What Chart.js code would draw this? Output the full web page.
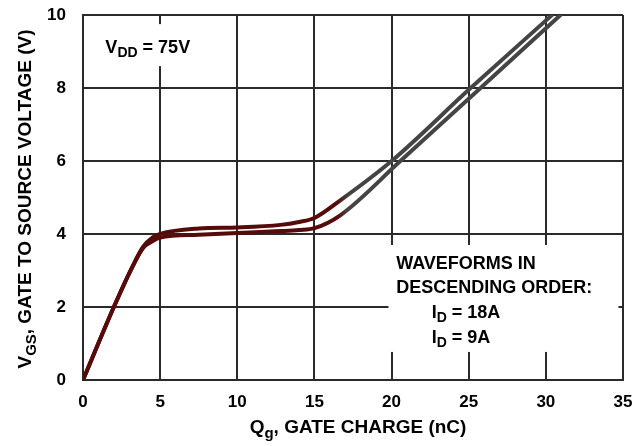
<!DOCTYPE html>
<html>
<head>
<meta charset="utf-8">
<script src="https://cdn.jsdelivr.net/npm/chart.js@4"></script>
<style>
  html, body { margin: 0; padding: 0; background: #fff; }
  #wrap { width: 634px; height: 446px; }
</style>
</head>
<body>
<div id="wrap"><canvas id="gateChart" width="634" height="446"></canvas></div>
<script>
// gate charge curves (nC, V)
const chargeHigh = [0, 2, 3.2, 3.9, 4.5, 5, 7.5, 10, 12.8, 14, 15, 16.7, 20, 25, 30.4];
const vgsHigh    = [0, 2, 3.1, 3.65, 3.9, 4.0, 4.15, 4.18, 4.25, 4.33, 4.44, 4.93, 6.0, 7.95, 10];
const chargeLow  = [0, 2, 3.2, 3.9, 4.5, 5, 7.5, 10, 12.8, 14, 15, 16.7, 20.5, 25.5, 30.95];
const vgsLow     = [0, 2, 3.1, 3.62, 3.8, 3.9, 3.98, 4.03, 4.08, 4.11, 4.16, 4.52, 5.97, 7.9, 10];
const seriesNames = ['I_D = 18A', 'I_D = 9A'];
const xTicks = [0, 5, 10, 15, 20, 25, 30, 35];
const yTicks = [0, 2, 4, 6, 8, 10];

const FONT = '"Liberation Sans", Arial, sans-serif';

function toPoints(xs, ys) {
  return xs.map((x, i) => ({ x: x, y: ys[i] }));
}

function curveColor(context) {
  const chart = context.chart;
  const area = chart.chartArea;
  if (!area) return '#4a0a0a';
  const g = chart.ctx.createLinearGradient(area.left, 0, area.right, 0);
  g.addColorStop(0, '#560a0a');
  g.addColorStop(0.47, '#560a0a');
  g.addColorStop(0.49, '#444444');
  g.addColorStop(1, '#444444');
  return g;
}

// draws text with one subscript part: [main, sub, rest]
function drawSubText(c, parts, x, y, size, align, subScale) {
  const big = 'bold ' + size + 'px ' + FONT;
  const small = 'bold ' + Math.round(size * (subScale || 0.75)) + 'px ' + FONT;
  c.font = big;
  const w0 = c.measureText(parts[0]).width;
  const w2 = c.measureText(parts[2]).width;
  c.font = small;
  const w1 = c.measureText(parts[1]).width;
  let start = x;
  if (align === 'center') start = x - (w0 + w1 + w2) / 2;
  c.textAlign = 'left';
  c.textBaseline = 'alphabetic';
  c.font = big;
  c.fillText(parts[0], start, y);
  c.font = small;
  c.fillText(parts[1], start + w0, y + size * 0.25);
  c.font = big;
  c.fillText(parts[2], start + w0 + w1, y);
}

const notesPlugin = {
  id: 'notes',
  beforeDatasetsDraw(chart) {
    const c = chart.ctx;
    const xs = chart.scales.x;
    const ys = chart.scales.y;
    c.save();
    c.fillStyle = '#fff';
    // white boxes behind the notes
    c.fillRect(xs.getPixelForValue(0.8), ys.getPixelForValue(9.75), 112, 42);
    c.fillRect(xs.getPixelForValue(19.8), ys.getPixelForValue(3.7), 230, 107);
    c.fillStyle = '#000';
    drawSubText(c, ['V', 'DD', ' = 75V'], xs.getPixelForValue(1.45), ys.getPixelForValue(8.97), 18, 'left', 0.8);
    const lx = xs.getPixelForValue(20.3);
    const lx2 = xs.getPixelForValue(22.6);
    c.font = 'bold 18px ' + FONT;
    c.textAlign = 'left';
    c.fillText('WAVEFORMS IN', lx, ys.getPixelForValue(3.05));
    c.fillText('DESCENDING ORDER:', lx, ys.getPixelForValue(2.37));
    seriesNames.forEach((name, i) => {
      const p = name.split('_');
      const rest = p[1];
      drawSubText(c, [p[0], rest.slice(0, 1), rest.slice(1)], lx2, ys.getPixelForValue(1.7 - i * 0.68), 18, 'left', 0.8);
    });
    c.restore();
  },
  afterDraw(chart) {
    const c = chart.ctx;
    const area = chart.chartArea;
    c.save();
    c.fillStyle = '#000';
    drawSubText(c, ['Q', 'g', ', GATE CHARGE (nC)'], 358, 433, 19, 'center', 0.8);
    c.translate(31, 199);
    c.rotate(-Math.PI / 2);
    drawSubText(c, ['V', 'GS', ', GATE TO SOURCE VOLTAGE (V)'], 0, 0, 19, 'center', 0.8);
    c.restore();
  }
};

const gridStyle = { color: '#2a2a2a', lineWidth: 2, drawTicks: false };

new Chart(document.getElementById('gateChart'), {
  type: 'line',
  data: {
    datasets: [
      { label: seriesNames[0], data: toPoints(chargeHigh, vgsHigh) },
      { label: seriesNames[1], data: toPoints(chargeLow, vgsLow) }
    ].map(d => Object.assign(d, {
      borderColor: curveColor,
      borderWidth: 4,
      pointRadius: 0,
      fill: false,
      cubicInterpolationMode: 'monotone',
      borderCapStyle: 'round'
    }))
  },
  options: {
    responsive: false,
    animation: false,
    events: [],
    layout: { padding: { top: 15, right: 11, left: 0, bottom: 0 } },
    plugins: { legend: { display: false }, tooltip: { enabled: false } },
    scales: {
      x: {
        type: 'linear', min: 0, max: 35,
        afterBuildTicks: s => { s.ticks = xTicks.map(v => ({ value: v })); },
        ticks: { color: '#000', font: { family: FONT, size: 17, weight: 'bold' }, padding: 12, maxRotation: 0 },
        grid: gridStyle,
        border: { color: '#2a2a2a', width: 2 },
        afterFit: s => { s.height = 66; s.paddingLeft = 0; s.paddingRight = 0; }
      },
      y: {
        type: 'linear', min: 0, max: 10,
        afterBuildTicks: s => { s.ticks = yTicks.map(v => ({ value: v })); },
        ticks: { color: '#000', font: { family: FONT, size: 17, weight: 'bold' }, padding: 17 },
        grid: gridStyle,
        border: { color: '#2a2a2a', width: 2 },
        afterFit: s => { s.width = 83; s.paddingTop = 0; s.paddingBottom = 0; }
      }
    }
  },
  plugins: [notesPlugin]
});
</script>
</body>
</html>
